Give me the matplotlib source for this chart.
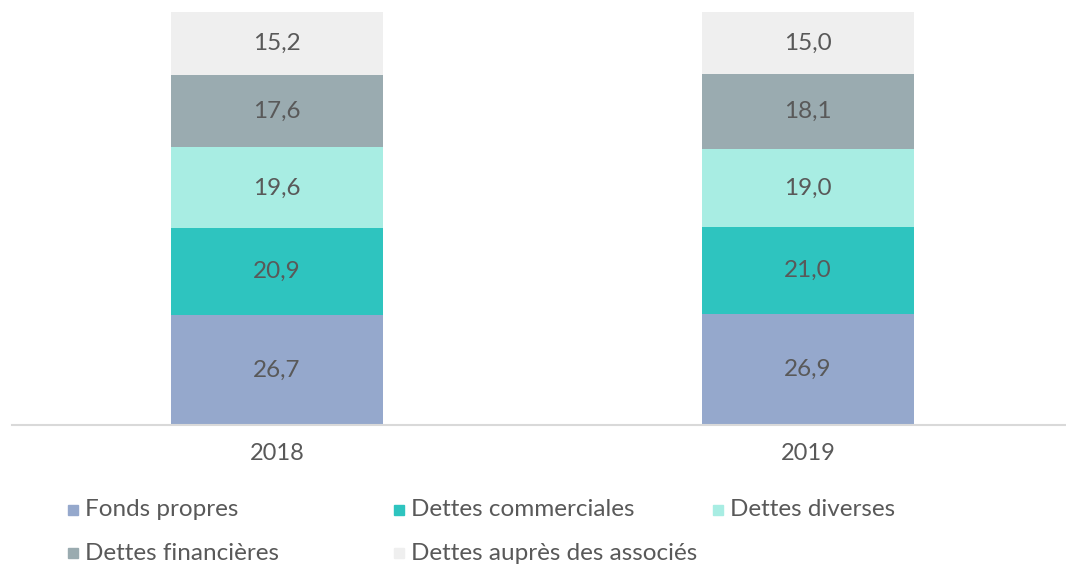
import matplotlib.pyplot as plt
from matplotlib.patches import Rectangle

plt.rcParams['font.family'] = ['Lato', 'DejaVu Sans']

years = ['2018', '2019']
series = ['Fonds propres', 'Dettes commerciales', 'Dettes diverses',
          'Dettes financières', 'Dettes auprès des associés']
fonds_propres = [26.7, 26.9]
dettes_commerciales = [20.9, 21.0]
dettes_diverses = [19.6, 19.0]
dettes_financieres = [17.6, 18.1]
dettes_associes = [15.2, 15.0]
values = [fonds_propres, dettes_commerciales, dettes_diverses,
          dettes_financieres, dettes_associes]
colors = ['#95a8cc', '#2ec4bf', '#a8ede3', '#9aabb0', '#efefef']
text_color = '#595959'

W, H = 1066, 567
fig = plt.figure(figsize=(W / 100, H / 100), dpi=100)
ax = fig.add_axes([11.5 / W, 142 / H, 1062 / W, 413 / H])

x = list(range(len(years)))
bottom = [0.0] * len(years)
for name, vals, col in zip(series, values, colors):
    bars = ax.bar(x, vals, 0.4, bottom=bottom, color=col, label=name)
    for rect, v in zip(bars, vals):
        ax.text(rect.get_x() + rect.get_width() / 2,
                rect.get_y() + rect.get_height() / 2,
                f'{v:.1f}'.replace('.', ','), ha='center', va='center',
                fontsize=17.5, color=text_color)
    bottom = [b + v for b, v in zip(bottom, vals)]

ax.set_xlim(-0.5, 1.5)
ax.set_ylim(0, 100)
ax.set_xticks(x)
ax.set_xticklabels(years, fontsize=17, color=text_color)
ax.tick_params(axis='x', length=0, pad=13)
ax.set_yticks([])
for s in ['top', 'right', 'left']:
    ax.spines[s].set_visible(False)
ax.spines['bottom'].set_color('#d9d9d9')
ax.spines['bottom'].set_linewidth(1.5)

# legend, laid out by hand on two rows like the original
legend_pos = [(73, 510), (399, 510), (718, 510), (73, 553), (399, 553)]
for name, col, (px, py) in zip(series, colors, legend_pos):
    fig.patches.append(Rectangle(((px - 5) / W, (H - py - 5) / H), 10 / W, 10 / H,
                                 transform=fig.transFigure, color=col))
    fig.text((px + 12) / W, (H - py) / H, name, ha='left', va='center',
             fontsize=17.5, color=text_color)

fig.savefig('out.png', dpi=100)
